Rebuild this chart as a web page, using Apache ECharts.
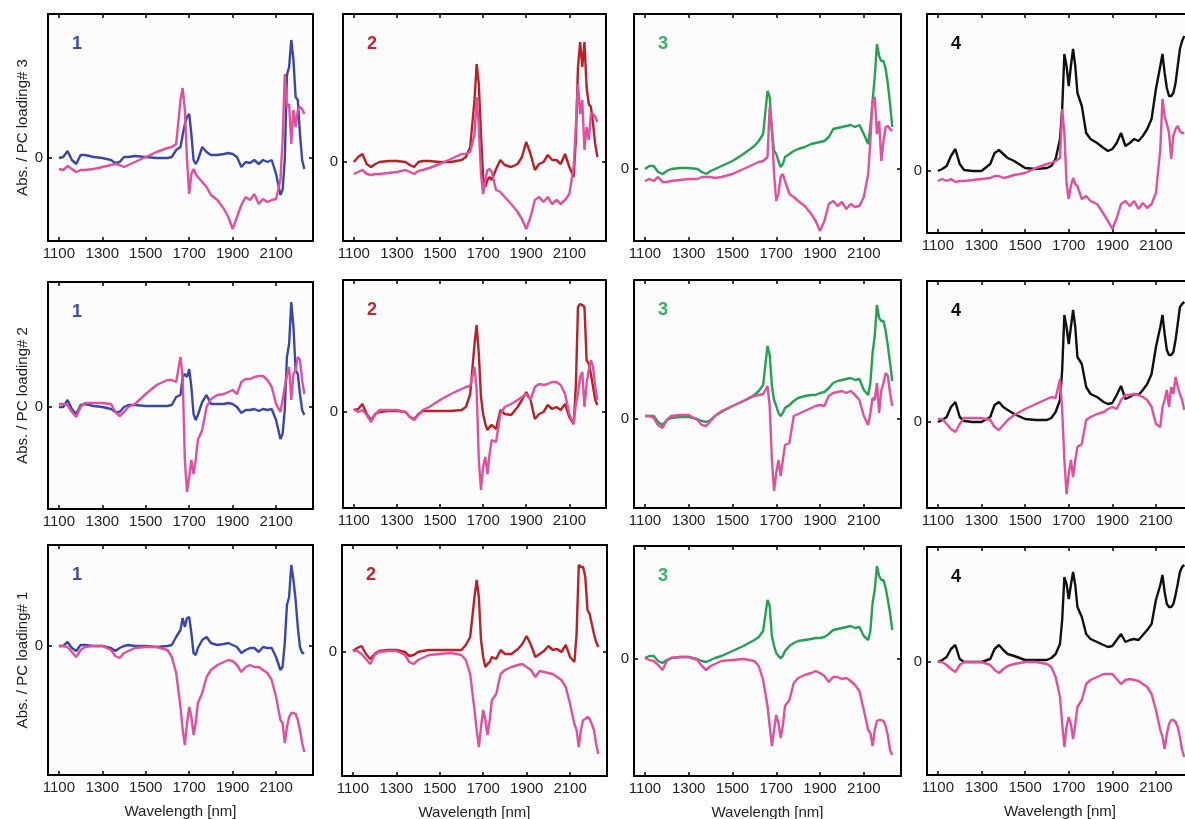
<!DOCTYPE html>
<html><head><meta charset="utf-8">
<script src="https://cdn.jsdelivr.net/npm/echarts@6/dist/echarts.min.js"></script>
<style>html,body{margin:0;padding:0;background:#fff}#c{width:1185px;height:819px}</style>
</head><body><div id="c"></div>
<script>
// ---------- DATA ----------
const wavelengths = [1100,1120,1140,1160,1180,1200,1220,1260,1300,1340,1360,1380,1400,1420,1450,1500,1550,1600,1620,1640,1660,1670,1680,1690,1700,1710,1720,1730,1740,1760,1780,1800,1830,1860,1880,1900,1920,1940,1960,1980,2000,2020,2040,2060,2080,2100,2120,2130,2140,2150,2160,2170,2180,2190,2200,2210,2220,2230];
const xTickValues = [1100,1300,1500,1700,1900,2100];
const yTickValues = [0];
const rowTitles = ['Abs. / PC loading# 3','Abs. / PC loading# 2','Abs. / PC loading# 1'];
const sampleLabels = ['1','2','3','4'];
const xTitle = 'Wavelength [nm]';

// Row 1: PC loading #3
const abs1_pc3 = [0,1,7,-2,-6,3,3,1,0,-2,-5,-4,1,1,2,1,0,0,1,8,11,23,34,41,44,24,-2,-6,-2,11,6,3,3,4,5,4,1,-9,-4,-5,-2,-6,-2,-4,-2,-16,-37,-32,-2,83,91,118,98,61,58,24,-2,-11];
const load1_pc3 = [-11,-12,-8,-11,-14,-12,-12,-11,-9,-7,-6,-7,-9,-7,-4,1,6,10,11,14,58,70,48,-2,-36,-16,-11,-16,-19,-24,-29,-37,-42,-51,-59,-71,-59,-47,-39,-42,-36,-46,-41,-44,-42,-41,-22,18,84,51,54,14,48,31,48,51,49,44];
const abs2_pc3 = [0,5,8,-2,-5,-2,0,1,1,0,-3,-5,0,1,1,0,0,2,5,15,62,98,78,28,-15,-25,-18,-15,-18,-7,2,-3,-5,-2,5,20,8,-8,-2,0,7,2,2,-2,8,-5,-15,22,95,120,95,120,75,58,55,38,18,5];
const load2_pc3 = [-12,-10,-8,-12,-13,-12,-12,-11,-10,-8,-10,-12,-9,-8,-6,-2,3,8,8,10,28,65,35,-12,-32,-18,-8,-7,-10,-28,-30,-35,-42,-50,-57,-67,-55,-38,-35,-40,-35,-42,-38,-42,-38,-32,-5,35,78,48,62,12,35,22,48,48,45,40];
const abs3_pc3 = [0,3,3,-3,-5,-2,0,1,1,0,-3,-5,-2,0,3,8,15,23,28,35,78,72,38,18,15,8,2,5,12,15,18,20,22,25,26,27,28,32,40,41,42,43,44,42,44,35,25,42,68,92,125,113,108,108,100,85,65,42];
const load3_pc3 = [-12,-10,-12,-8,-13,-13,-12,-11,-10,-10,-8,-8,-8,-9,-8,-5,0,5,7,8,12,62,42,-5,-32,-25,-8,-5,-12,-25,-28,-32,-37,-45,-52,-62,-52,-35,-32,-37,-33,-40,-35,-38,-37,-28,-5,28,68,72,35,48,8,28,42,43,40,38];
const abs4_pc3 = [0,2,5,15,22,7,1,0,0,7,18,21,17,13,10,3,2,3,5,12,32,62,117,105,85,105,122,105,78,65,38,32,28,23,20,22,28,38,25,28,32,30,35,42,52,82,105,117,98,83,75,75,78,88,105,122,130,135];
const load4_pc3 = [-10,-8,-10,-8,-11,-10,-10,-9,-8,-7,-5,-5,-7,-6,-4,-2,3,7,8,10,13,62,38,-12,-28,-15,-7,-13,-15,-28,-25,-30,-33,-43,-50,-58,-47,-33,-30,-35,-30,-38,-32,-37,-33,-22,22,72,55,47,38,12,35,42,45,40,38,38];

// Row 2: PC loading #2
const abs1_pc2 = [0,0,7,-2,-7,2,3,1,0,-2,-5,-5,0,2,2,1,1,1,2,10,12,30,33,30,38,20,-7,-13,-8,5,12,3,3,3,4,3,0,-6,-3,-3,-2,-4,-2,-3,-2,-13,-32,-27,-3,50,63,105,80,37,33,13,-3,-8];
const load1_pc2 = [3,3,2,-5,-10,0,4,4,4,3,-5,-9,-5,0,3,13,22,27,27,25,50,30,-53,-85,-70,-53,-67,-53,-33,-23,0,8,12,13,15,17,13,25,28,28,30,31,31,27,20,3,-5,7,20,32,40,7,33,37,50,47,27,13];
const abs2_pc2 = [2,3,8,-2,-8,-2,0,1,1,0,-5,-7,-2,1,1,1,1,2,5,18,68,87,58,15,-2,-12,-18,-15,-13,-17,2,-2,-3,5,12,20,12,-7,-2,0,7,3,5,2,8,-5,-12,25,105,108,107,105,52,48,38,25,12,7];
const load2_pc2 = [3,0,2,-3,-10,-2,2,2,2,0,-5,-8,-3,2,5,12,18,23,25,26,45,22,-48,-78,-55,-45,-62,-42,-28,-30,-2,5,8,12,15,18,12,25,28,27,28,30,30,27,18,-2,-12,8,18,35,40,5,28,42,52,45,25,12];
const abs3_pc2 = [3,3,3,-3,-6,-1,1,2,2,0,-2,-3,-1,3,7,13,18,24,28,34,73,64,33,19,13,6,3,6,11,14,18,21,23,24,24,26,27,31,36,38,39,40,41,39,40,29,24,36,66,83,114,101,98,98,88,73,56,38];
const load3_pc2 = [3,3,1,-6,-9,-1,3,4,4,-1,-6,-7,-2,3,8,13,18,23,24,25,33,13,-41,-72,-54,-41,-57,-41,-26,-24,3,5,8,11,13,14,13,23,26,27,28,26,28,24,19,3,-6,6,21,19,36,6,29,36,46,43,26,13];
const abs4_pc2 = [0,2,5,15,20,5,1,0,0,5,17,20,15,12,8,3,2,2,4,10,22,52,107,95,78,95,112,95,65,58,35,28,25,20,18,19,27,36,23,25,28,27,32,38,48,75,95,107,88,72,67,67,70,82,98,115,118,120];
const load4_pc2 = [3,3,-2,-7,-10,-2,4,4,4,2,-5,-8,-3,2,7,13,18,23,25,24,43,12,-38,-72,-52,-38,-55,-38,-25,-22,2,5,8,10,13,15,13,22,27,27,28,27,25,22,15,-2,-5,15,22,32,15,35,28,45,35,28,22,12];

// Row 3: PC loading #1
const abs1_pc1 = [0,0,4,-2,-5,1,1,0,0,-2,-5,-2,0,1,0,0,-1,0,1,9,16,28,19,28,29,13,-7,-9,-2,6,9,3,1,2,3,1,-1,-7,-4,-2,-2,-6,-1,-2,-2,-11,-24,-21,3,41,49,81,66,46,19,-1,-7,-7];
const load1_pc1 = [0,0,-1,-6,-11,-4,-1,0,0,-4,-10,-12,-7,-5,-2,-1,-1,-4,-11,-27,-61,-84,-99,-77,-61,-71,-89,-77,-57,-47,-31,-24,-19,-16,-14,-15,-19,-26,-21,-19,-21,-21,-24,-27,-34,-51,-74,-77,-97,-81,-71,-67,-67,-68,-74,-84,-97,-106];
const abs2_pc1 = [1,4,6,-2,-7,-2,1,2,2,0,-4,-3,0,1,2,2,2,2,7,15,55,72,55,12,-5,-15,-12,-10,-5,-7,2,-2,-2,3,8,16,7,-5,-2,1,6,2,3,0,7,-5,-10,18,87,85,85,75,42,38,28,18,10,5];
const load2_pc1 = [1,1,-2,-7,-12,-3,0,1,1,-3,-10,-12,-8,-6,-3,-2,-1,-3,-8,-22,-58,-78,-95,-75,-58,-68,-83,-68,-48,-42,-22,-18,-15,-13,-12,-15,-18,-25,-19,-20,-21,-22,-25,-28,-35,-52,-72,-78,-95,-78,-68,-67,-65,-67,-72,-78,-92,-102];
const abs3_pc1 = [1,3,3,-2,-4,-1,1,2,2,0,-2,-3,-1,1,3,8,13,19,22,28,59,53,23,13,6,3,1,3,8,13,16,18,19,20,21,21,22,25,29,30,31,32,33,31,32,23,19,28,56,69,93,83,79,79,71,59,46,29];
const load3_pc1 = [1,-1,-2,-6,-11,-2,1,2,2,-1,-7,-11,-7,-5,-2,-1,0,-2,-7,-21,-47,-67,-87,-71,-56,-64,-79,-67,-47,-41,-24,-19,-16,-14,-12,-14,-17,-23,-18,-18,-20,-19,-22,-26,-32,-51,-71,-74,-87,-71,-62,-61,-61,-62,-67,-77,-91,-96];
const abs4_pc1 = [0,2,5,13,17,3,0,0,0,3,13,17,12,8,6,2,2,2,4,8,18,42,85,78,63,77,90,77,55,45,28,23,20,17,15,16,22,28,20,22,23,22,27,32,38,62,77,87,70,58,55,55,58,67,78,90,95,97];
const load4_pc1 = [0,0,-3,-7,-10,-3,0,0,0,-3,-8,-11,-7,-4,-2,0,0,-2,-5,-15,-35,-62,-85,-65,-55,-62,-77,-62,-45,-38,-22,-18,-15,-12,-12,-12,-17,-22,-18,-17,-18,-19,-22,-25,-32,-48,-68,-75,-87,-72,-62,-58,-58,-60,-65,-75,-88,-95];

// axis limits per panel [min, max]
const yLimitsRow1 = [[-83,144],[-79,148],[-72,155],[-62,157]];
const yLimitsRow2 = [[-102,125],[-96,132],[-89,139],[-86,141]];
const yLimitsRow3 = [[-129,101],[-124,107],[-117,113],[-113,115]];
const xLimits = [1050, 2270];

// ---------- LAYOUT / STYLE ----------
const spectra = [
  [abs1_pc3, abs2_pc3, abs3_pc3, abs4_pc3],
  [abs1_pc2, abs2_pc2, abs3_pc2, abs4_pc2],
  [abs1_pc1, abs2_pc1, abs3_pc1, abs4_pc1]
];
const loadings = [
  [load1_pc3, load2_pc3, load3_pc3, load4_pc3],
  [load1_pc2, load2_pc2, load3_pc2, load4_pc2],
  [load1_pc1, load2_pc1, load3_pc1, load4_pc1]
];
const yLimits = [yLimitsRow1, yLimitsRow2, yLimitsRow3];
const boxes = [
  [{l:48,t:14,w:265,h:227},{l:343,t:14,w:263,h:227},{l:634,t:14,w:267,h:227},{l:927,t:14,w:266,h:219}],
  [{l:48,t:282,w:265,h:227},{l:343,t:280,w:263,h:228},{l:634,t:280,w:267,h:228},{l:927,t:281,w:266,h:227}],
  [{l:48,t:545,w:265,h:230},{l:342,t:545,w:265,h:231},{l:634,t:546,w:267,h:230},{l:927,t:547,w:266,h:228}]
];
const lineColors = ['#3b47a8','#bb2027','#26a055','#111111'];
const labelColors = ['#3e4caa','#c0272d','#36b064','#111111'];
const pink = '#e0509c';
const FONT = '"Liberation Sans", Arial, Helvetica, sans-serif';
const plain = v => String(v);

const option = {
  backgroundColor: '#ffffff',
  animation: false,
  grid: [], xAxis: [], yAxis: [], series: [], graphic: []
};

for (let r = 0; r < 3; r++) {
  for (let c = 0; c < 4; c++) {
    const gi = r * 4 + c;
    const b = boxes[r][c];
    option.grid.push({
      left: b.l, top: b.t, width: b.w, height: b.h,
      show: true, backgroundColor: '#fcfcfc', borderWidth: 0,
      containLabel: false, outerBoundsMode: 'none'
    });
    const lineStyle = {color: '#000', width: 2};
    const tickStyle = {color: '#000', width: 1.5};
    const labelStyle = {color: '#222', fontSize: 15, fontFamily: FONT};
    // bottom x
    option.xAxis.push({
      gridIndex: gi, type: 'value', position: 'bottom',
      min: xLimits[0], max: xLimits[1],
      axisLine: {show: true, onZero: false, lineStyle},
      axisTick: {show: true, inside: true, length: 4, customValues: xTickValues, lineStyle: tickStyle},
      axisLabel: Object.assign({show: true, margin: 5, customValues: xTickValues, hideOverlap: false, formatter: plain}, labelStyle),
      splitLine: {show: false},
      name: r === 2 ? xTitle : '', nameLocation: 'middle', nameGap: 29,
      nameTextStyle: {color: '#222', fontSize: 15, fontFamily: FONT}
    });
    // top x
    option.xAxis.push({
      gridIndex: gi, type: 'value', position: 'top',
      min: xLimits[0], max: xLimits[1],
      axisLine: {show: true, onZero: false, lineStyle},
      axisTick: {show: true, inside: true, length: 4, customValues: xTickValues, lineStyle: tickStyle},
      axisLabel: {show: false},
      splitLine: {show: false}
    });
    const lim = yLimits[r][c];
    // left y
    option.yAxis.push({
      gridIndex: gi, type: 'value', position: 'left',
      min: lim[0], max: lim[1],
      axisLine: {show: true, onZero: false, lineStyle},
      axisTick: {show: true, inside: true, length: 4, customValues: yTickValues, lineStyle: tickStyle},
      axisLabel: Object.assign({show: true, margin: 5, customValues: yTickValues, formatter: plain}, labelStyle),
      splitLine: {show: false},
      name: c === 0 ? rowTitles[r] : '', nameLocation: 'middle', nameGap: 13, nameRotate: 90,
      nameTextStyle: {color: '#222', fontSize: 15, fontFamily: FONT}
    });
    // right y
    option.yAxis.push({
      gridIndex: gi, type: 'value', position: 'right',
      min: lim[0], max: lim[1],
      axisLine: {show: true, onZero: false, lineStyle},
      axisTick: {show: true, inside: true, length: 4, customValues: yTickValues, lineStyle: tickStyle},
      axisLabel: {show: false},
      splitLine: {show: false}
    });
    option.series.push({
      type: 'line', xAxisIndex: gi * 2, yAxisIndex: gi * 2,
      data: wavelengths.map((w, i) => [w, spectra[r][c][i]]),
      showSymbol: false, symbol: 'none', clip: true,
      lineStyle: {color: lineColors[c], width: 2.4}, z: 3
    });
    option.series.push({
      type: 'line', xAxisIndex: gi * 2, yAxisIndex: gi * 2,
      data: wavelengths.map((w, i) => [w, loadings[r][c][i]]),
      showSymbol: false, symbol: 'none', clip: true,
      lineStyle: {color: pink, width: 2.4}, z: 4
    });
    option.graphic.push({
      type: 'text', left: b.l + 24, top: b.t + 21, z: 10,
      style: {text: sampleLabels[c], fill: labelColors[c], font: 'bold 18px ' + FONT}
    });
  }
}

const chart = echarts.init(document.getElementById('c'), null, {renderer: 'canvas'});
chart.setOption(option);
</script>
</body></html>
